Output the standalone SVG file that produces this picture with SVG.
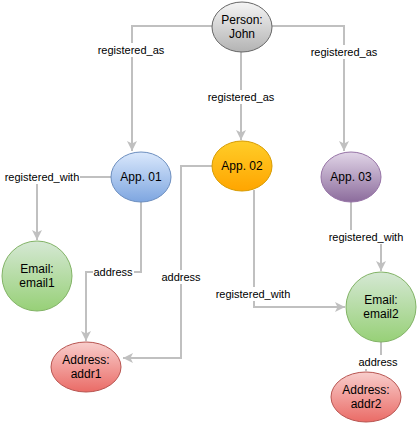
<svg xmlns="http://www.w3.org/2000/svg" width="418" height="423" viewBox="0 0 418 423">
<defs>
<linearGradient id="gGray" x1="0" y1="0" x2="0" y2="1"><stop offset="0" stop-color="#f5f5f5"/><stop offset="1" stop-color="#b3b3b3"/></linearGradient>
<linearGradient id="gBlue" x1="0" y1="0" x2="0" y2="1"><stop offset="0" stop-color="#dae8fc"/><stop offset="1" stop-color="#7ea6e0"/></linearGradient>
<linearGradient id="gOrange" x1="0" y1="0" x2="0" y2="1"><stop offset="0" stop-color="#ffcd28"/><stop offset="1" stop-color="#ffa500"/></linearGradient>
<linearGradient id="gPurple" x1="0" y1="0" x2="0" y2="1"><stop offset="0" stop-color="#e1d5e7"/><stop offset="1" stop-color="#8c6c9c"/></linearGradient>
<linearGradient id="gGreen" x1="0" y1="0" x2="0" y2="1"><stop offset="0" stop-color="#d5e8d4"/><stop offset="1" stop-color="#97d077"/></linearGradient>
<linearGradient id="gRed" x1="0" y1="0" x2="0" y2="1"><stop offset="0" stop-color="#f8cecc"/><stop offset="1" stop-color="#ea6b66"/></linearGradient>
<marker id="arr" viewBox="0 0 10 10" refX="10" refY="5" markerWidth="10" markerHeight="10" markerUnits="userSpaceOnUse" orient="auto">
<path d="M0,0 L10,5 L0,10 L2.5,5 Z" fill="#c0c0c0"/>
</marker>
</defs>
<style>
.e{fill:none;stroke:#c0c0c0;stroke-width:2}
.lb{fill:#ffffff}
.lt{font-family:"Liberation Sans",Arial,sans-serif;font-size:11px;fill:#000;text-anchor:middle}
.nt{font-family:"Liberation Sans",Arial,sans-serif;font-size:12px;fill:#000;text-anchor:middle}
</style>
<g id="connectors">
<path class="e" d="M212,26 H132 V151" marker-end="url(#arr)"/>
<path class="e" d="M241,52 V140" marker-end="url(#arr)"/>
<path class="e" d="M272,26 H344 V151" marker-end="url(#arr)"/>
<path class="e" d="M111,177 H37 V240" marker-end="url(#arr)"/>
<path class="e" d="M141,202 V272 H86 V341" marker-end="url(#arr)"/>
<path class="e" d="M212,166 H181 V358 H123" marker-end="url(#arr)"/>
<path class="e" d="M254,190 V307 H345" marker-end="url(#arr)"/>
<path class="e" d="M351,202 V237 H381 V271" marker-end="url(#arr)"/>
<path class="e" d="M381,342 V362 H366 V371" marker-end="url(#arr)"/>
<rect class="lb" x="97" y="43" width="69" height="14"/>
<text class="lt" x="131" y="54">registered_as</text>
<rect class="lb" x="310" y="45" width="69" height="14"/>
<text class="lt" x="344" y="56">registered_as</text>
<rect class="lb" x="207" y="90" width="69" height="14"/>
<text class="lt" x="241" y="101">registered_as</text>
<rect class="lb" x="3" y="170" width="77" height="14"/>
<text class="lt" x="42" y="181">registered_with</text>
<rect class="lb" x="93" y="265" width="41" height="14"/>
<text class="lt" x="113" y="276">address</text>
<rect class="lb" x="161" y="270" width="41" height="14"/>
<text class="lt" x="181" y="281">address</text>
<rect class="lb" x="215" y="287" width="77" height="14"/>
<text class="lt" x="253" y="298">registered_with</text>
<rect class="lb" x="328" y="230" width="77" height="14"/>
<text class="lt" x="366" y="241">registered_with</text>
<rect class="lb" x="358" y="355" width="41" height="14"/>
<text class="lt" x="378" y="366">address</text>
</g>
<g id="person-john"><ellipse cx="242" cy="27" rx="30" ry="25" fill="url(#gGray)" stroke="#666666"/><text class="nt" x="242" y="24">Person:</text><text class="nt" x="242" y="38">John</text></g>
<g id="app01"><ellipse cx="141" cy="177" rx="30" ry="25" fill="url(#gBlue)" stroke="#6c8ebf"/><text class="nt" x="141" y="181">App. 01</text></g>
<g id="app02"><ellipse cx="242" cy="166" rx="30" ry="25" fill="url(#gOrange)" stroke="#d79b00"/><text class="nt" x="242" y="170">App. 02</text></g>
<g id="app03"><ellipse cx="351" cy="177" rx="30" ry="25" fill="url(#gPurple)" stroke="#9673a6"/><text class="nt" x="351" y="181">App. 03</text></g>
<g id="email1"><ellipse cx="37" cy="276" rx="35" ry="35" fill="url(#gGreen)" stroke="#82b366"/><text class="nt" x="37" y="273">Email:</text><text class="nt" x="37" y="287">email1</text></g>
<g id="email2"><ellipse cx="381" cy="307" rx="35" ry="35" fill="url(#gGreen)" stroke="#82b366"/><text class="nt" x="381" y="304">Email:</text><text class="nt" x="381" y="318">email2</text></g>
<g id="addr1"><ellipse cx="86" cy="367" rx="35" ry="25" fill="url(#gRed)" stroke="#b85450"/><text class="nt" x="86" y="364">Address:</text><text class="nt" x="86" y="378">addr1</text></g>
<g id="addr2"><ellipse cx="366" cy="397" rx="35" ry="25" fill="url(#gRed)" stroke="#b85450"/><text class="nt" x="366" y="394">Address:</text><text class="nt" x="366" y="408">addr2</text></g>
</svg>
